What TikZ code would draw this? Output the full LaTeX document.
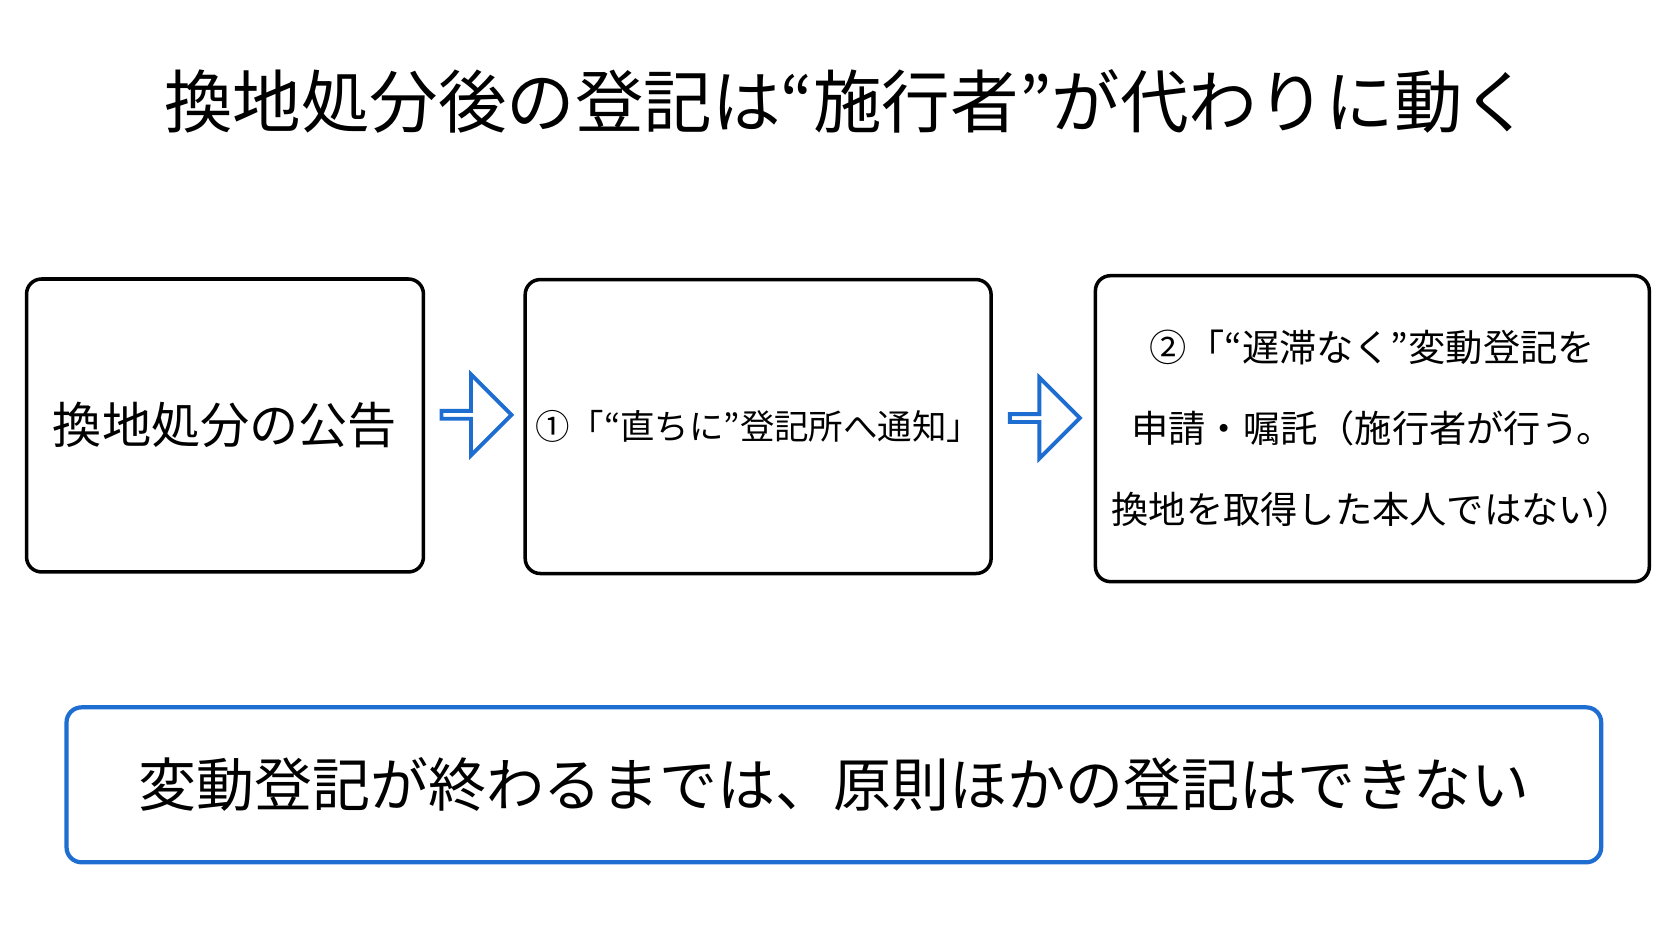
\documentclass[tikz,border=0pt]{standalone}
\usepackage{fontspec}
\newfontfamily\cjk{Noto Sans CJK JP}
\usetikzlibrary{positioning,shapes.arrows}
\definecolor{flowblue}{RGB}{30,110,210}
\tikzset{
  stage/.style={draw=black, line width=1pt, rounded corners=0.15cm, align=center, font=\cjk, inner sep=0pt},
  hollow/.style={single arrow, draw=flowblue, line width=1.1pt, fill=white,
    minimum width=0.81cm, single arrow head extend=0.18cm, minimum height=0.70cm, inner sep=0pt},
}
\begin{document}
\begin{tikzpicture}[x=0.010663cm, y=-0.010663cm]
  \useasboundingbox[fill=white] (0,0) rectangle (1568,882);
  \node (title) [font=\cjk\fontsize{19.5}{23}\selectfont] at (795,95) {換地処分後の登記は“施行者”が代わりに動く};
  % three steps
  \node (notice) [stage, minimum width=3.97cm, minimum height=2.93cm, font=\cjk\fontsize{14}{17}\selectfont] at (211,399) {換地処分の公告};
  \node (inform) [stage, minimum width=4.66cm, minimum height=2.94cm, font=\cjk\fontsize{9.8}{12}\selectfont] at (711,400) {①「“直ちに”登記所へ通知」};
  \node (apply) [stage, minimum width=5.54cm, minimum height=3.06cm, font=\cjk\fontsize{10.6}{23}\selectfont] at (1287,402)
    {②「“遅滞なく”変動登記を\\申請・嘱託（施行者が行う。\\換地を取得した本人ではない）};
  \node (arrA) [hollow] at (445,389) {};
  \node (arrB) [hollow] at (978,392) {};
  % bottom note
  \node (rule) [stage, draw=flowblue, line width=1.2pt, minimum width=15.35cm, minimum height=1.55cm,
    font=\cjk\fontsize{16.5}{19}\selectfont] at (782,736) {変動登記が終わるまでは、原則ほかの登記はできない};
\end{tikzpicture}
\end{document}
